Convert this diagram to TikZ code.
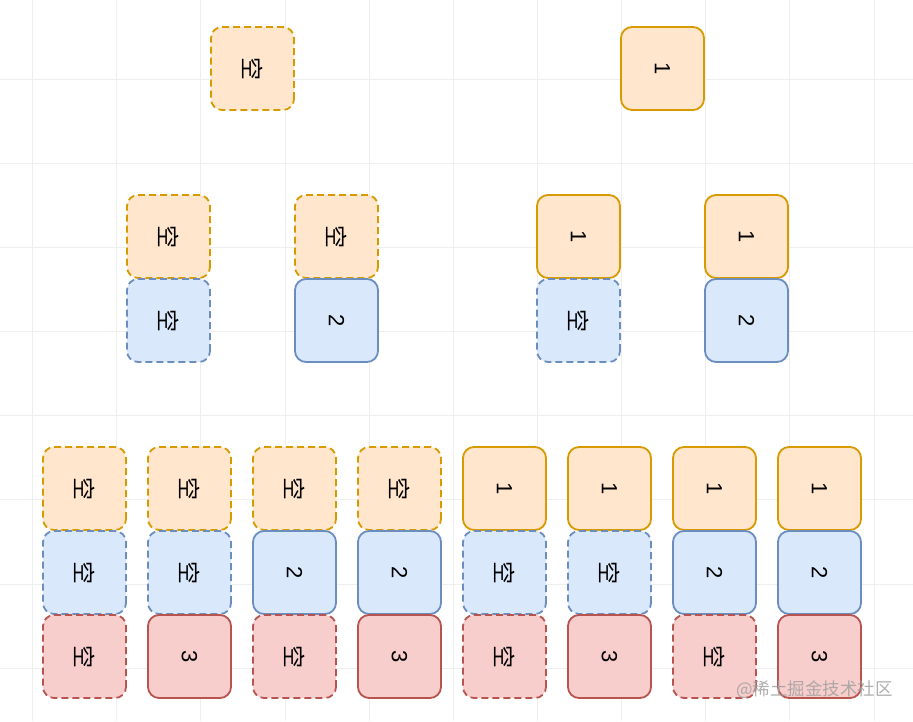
\documentclass[tikz,border=0pt]{standalone}
\usepackage{fontspec}
\newfontfamily\cjk{Noto Sans CJK SC}
\newfontfamily\digits{Liberation Sans}
\begin{document}
\begin{tikzpicture}[x=1pt,y=-1pt,
  cell/.style={rectangle,rounded corners=11pt,minimum width=83pt,minimum height=83pt,line width=1.8pt,inner sep=0pt,font=\cjk\fontsize{23}{23}\selectfont,rotate=-90},
  num/.style={font=\digits\fontsize{22}{22}\selectfont},
  dsh/.style={dash pattern=on 7pt off 4pt},
  ob/.style={cell,draw={rgb,255:red,215;green,155;blue,0},fill={rgb,255:red,255;green,230;blue,204}},
  bb/.style={cell,draw={rgb,255:red,108;green,142;blue,191},fill={rgb,255:red,218;green,232;blue,252}},
  rb/.style={cell,draw={rgb,255:red,184;green,84;blue,80},fill={rgb,255:red,248;green,206;blue,204}},
  obd/.style={ob,dsh}, bbd/.style={bb,dsh}, rbd/.style={rb,dsh},
  obn/.style={ob,num}, bbn/.style={bb,num}, rbn/.style={rb,num},
  gridline/.style={draw={rgb,255:red,238;green,238;blue,238},line width=0.8pt}
]
\useasboundingbox (0,0) rectangle (913,721);
\fill[white] (0,0) rectangle (913,721);
% grid
\foreach \k in {0,...,10} {\draw[gridline] (32.5+84.15*\k,0) -- (32.5+84.15*\k,721);}
\foreach \k in {0,...,7} {\draw[gridline] (0,79+84.15*\k) -- (913,79+84.15*\k);}
% row 1
\node[obd] (r1a) at (252.5,68.5) {空};
\node[obn] (r1b) at (662.5,68.5) {1};
% row 2
\node[obd] (r2a1) at (168.5,236.5) {空};
\node[bbd] (r2a2) at (168.5,320.5) {空};
\node[obd] (r2b1) at (336.5,236.5) {空};
\node[bbn] (r2b2) at (336.5,320.5) {2};
\node[obn] (r2c1) at (578.5,236.5) {1};
\node[bbd] (r2c2) at (578.5,320.5) {空};
\node[obn] (r2d1) at (746.5,236.5) {1};
\node[bbn] (r2d2) at (746.5,320.5) {2};
% row 3
\node[obd] (r3a1) at (84.5,488.5) {空};
\node[bbd] (r3a2) at (84.5,572.5) {空};
\node[rbd] (r3a3) at (84.5,656.5) {空};
\node[obd] (r3b1) at (189.5,488.5) {空};
\node[bbd] (r3b2) at (189.5,572.5) {空};
\node[rbn] (r3b3) at (189.5,656.5) {3};
\node[obd] (r3c1) at (294.5,488.5) {空};
\node[bbn] (r3c2) at (294.5,572.5) {2};
\node[rbd] (r3c3) at (294.5,656.5) {空};
\node[obd] (r3d1) at (399.5,488.5) {空};
\node[bbn] (r3d2) at (399.5,572.5) {2};
\node[rbn] (r3d3) at (399.5,656.5) {3};
\node[obn] (r3e1) at (504.5,488.5) {1};
\node[bbd] (r3e2) at (504.5,572.5) {空};
\node[rbd] (r3e3) at (504.5,656.5) {空};
\node[obn] (r3f1) at (609.5,488.5) {1};
\node[bbd] (r3f2) at (609.5,572.5) {空};
\node[rbn] (r3f3) at (609.5,656.5) {3};
\node[obn] (r3g1) at (714.5,488.5) {1};
\node[bbn] (r3g2) at (714.5,572.5) {2};
\node[rbd] (r3g3) at (714.5,656.5) {空};
\node[obn] (r3h1) at (819.5,488.5) {1};
\node[bbn] (r3h2) at (819.5,572.5) {2};
\node[rbn] (r3h3) at (819.5,656.5) {3};
% watermark
\node[anchor=east,inner sep=0pt,text={rgb,255:red,160;green,160;blue,160},opacity=0.85,font=\cjk\fontsize{17.5}{17.5}\selectfont] (wm) at (893,690) {@稀土掘金技术社区};
\end{tikzpicture}
\end{document}
